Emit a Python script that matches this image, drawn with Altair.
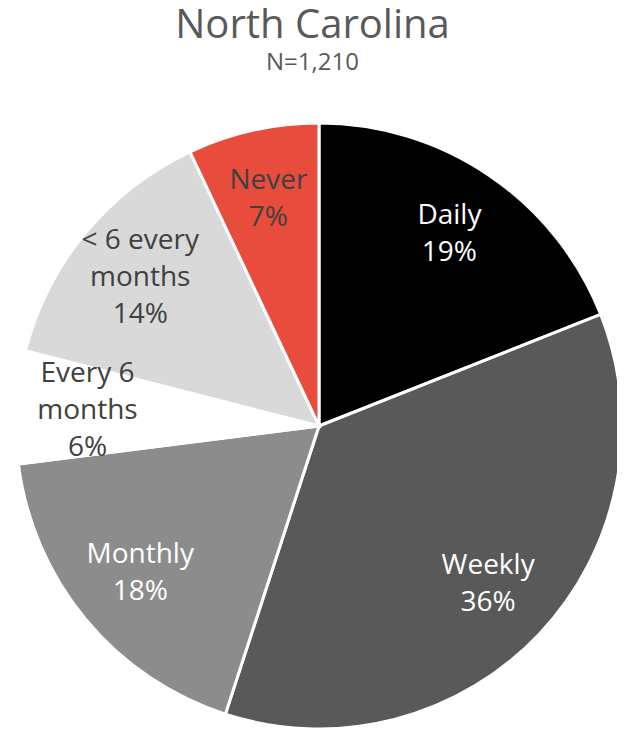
import altair as alt
import pandas as pd

categories = ["Daily", "Weekly", "Monthly", "Every 6\nmonths", "< 6 every\nmonths", "Never"]
values = [19, 36, 18, 6, 14, 7]
colors = ["#000000", "#595959", "#8C8C8C", "#FFFFFF", "#D9D9D9", "#E84C3D"]
text_colors = ["#FFFFFF", "#FFFFFF", "#FFFFFF", "#404040", "#404040", "#404040"]

df = pd.DataFrame({
    "category": categories,
    "value": values,
    "order": list(range(len(categories))),
    "label": [f"{c}\n{v}%" for c, v in zip(categories, values)],
    "lines": [c.count("\n") + 2 for c in categories],
    "tcolor": text_colors,
})

cx, cy = 311, 341
LH = 37
theta_scale = alt.Scale(domain=[0, 100])

base = alt.Chart(df).transform_window(
    cum="sum(value)", sort=[alt.SortField("order", order="ascending")],
    frame=[None, 0],
).transform_calculate(mid="datum.cum - datum.value / 2")

arcs = base.mark_arc(radius=303, stroke="white", strokeWidth=3).encode(
    theta=alt.Theta("value:Q", stack=True, scale=theta_scale),
    order=alt.Order("order:Q", sort="ascending"),
    x=alt.value(cx), y=alt.value(cy),
    color=alt.Color("category:N", scale=alt.Scale(domain=categories, range=colors), legend=None),
)

def label_layer(n):
    return base.transform_filter(alt.datum.lines == n).mark_text(
        radius=232, fontSize=28, font="Open Sans", lineBreak="\n", lineHeight=LH,
        dy=-(n - 1) * LH / 2,
    ).encode(
        theta=alt.Theta("mid:Q", scale=theta_scale),
        x=alt.value(cx), y=alt.value(cy),
        text="label:N",
        color=alt.Color("tcolor:N", scale=None),
    )

chart = alt.layer(arcs, label_layer(2), label_layer(3)).properties(
    width=609, height=646,
    title=alt.TitleParams(
        text="North Carolina", subtitle="N=1,210",
        fontSize=40, font="Open Sans", fontWeight="normal", color="#595959",
        subtitleFontSize=24, subtitleFont="Open Sans", subtitleColor="#595959",
        anchor="middle", offset=10, subtitlePadding=5,
    ),
    padding={"left": 0, "top": 77, "right": 0, "bottom": 0},
    autosize=alt.AutoSizeParams(type="none"),
).configure_view(stroke=None)

chart.save("out.html", embed_options={"renderer": "svg", "actions": False})
